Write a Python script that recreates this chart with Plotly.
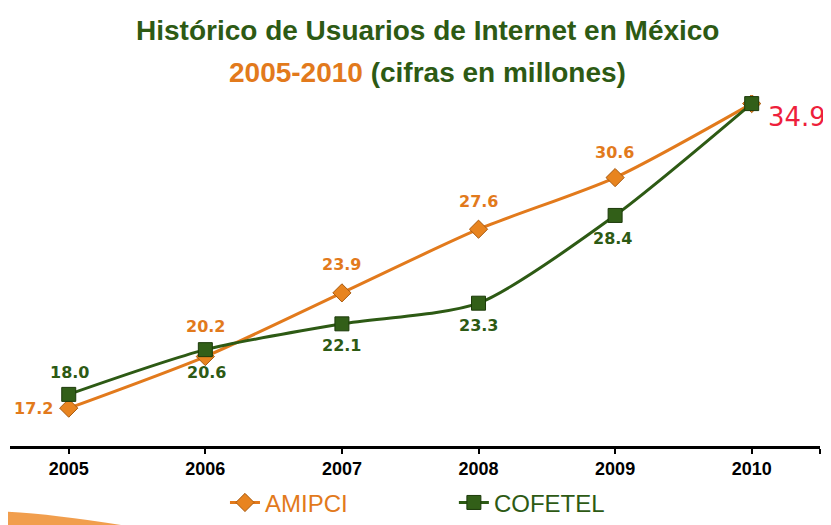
import plotly.graph_objects as go

# Data
years = [2005, 2006, 2007, 2008, 2009, 2010]
amipci = [17.2, 20.2, 23.9, 27.6, 30.6, 34.9]
cofetel = [18.0, 20.6, 22.1, 23.3, 28.4, 34.9]

ORANGE = "#e27a1c"
GREEN = "#2d5a14"
RED = "#ee1f3c"

# label offsets in px (xshift, yshift) for 2005-2009
amipci_offsets = [(-35, 0), (0, 30), (0, 28), (0, 28), (-1, 25)]
cofetel_offsets = [(1, 22), (1, -23), (0, -22), (0, -22), (-3, -23)]

fig = go.Figure()

fig.add_trace(go.Scatter(
    x=years, y=amipci, name="AMIPCI", mode="lines+markers", legend="legend",
    line=dict(color=ORANGE, width=3, shape="spline", smoothing=0.7),
    marker=dict(symbol="diamond", size=14, color="#e8841f",
                line=dict(color="#a85a10", width=1)),
))
fig.add_trace(go.Scatter(
    x=years, y=cofetel, name="COFETEL", mode="lines+markers", legend="legend2",
    line=dict(color=GREEN, width=3, shape="spline", smoothing=0.7),
    marker=dict(symbol="square", size=14, color="#325f18",
                line=dict(color="#1c3a0a", width=1)),
))

label_font = dict(family="DejaVu Sans", size=16, weight="bold")
for yr, v, (dx, dy) in zip(years[:-1], amipci[:-1], amipci_offsets):
    fig.add_annotation(x=yr, y=v, text=f"{v:.1f}", showarrow=False,
                       xshift=dx, yshift=dy, font=dict(color=ORANGE, **label_font))
for yr, v, (dx, dy) in zip(years[:-1], cofetel[:-1], cofetel_offsets):
    fig.add_annotation(x=yr, y=v, text=f"{v:.1f}", showarrow=False,
                       xshift=dx, yshift=dy, font=dict(color=GREEN, **label_font))

# final value highlighted in red
fig.add_annotation(x=years[-1], y=amipci[-1], text=f"{amipci[-1]:.1f}", showarrow=False,
                   xanchor="left", xshift=14, yshift=-13,
                   font=dict(family="DejaVu Sans", size=26, color=RED))

# two-line title
title_font = dict(family="Liberation Sans", size=28, color=GREEN, weight="bold")
fig.add_annotation(xref="paper", yref="paper", x=0.516, y=1.185,
                   text="Histórico de Usuarios de Internet en México",
                   showarrow=False, xanchor="center", yanchor="middle", font=title_font)
fig.add_annotation(xref="paper", yref="paper", x=0.516, y=1.0655,
                   text=f"<span style='color:{ORANGE}'>2005-2010</span> (cifras en millones)",
                   showarrow=False, xanchor="center", yanchor="middle", font=title_font)

# orange swoosh bottom-left
fig.add_shape(type="path", xref="paper", yref="paper",
              path="M -0.003,-0.187 Q 0.06,-0.195 0.15,-0.23 L -0.003,-0.23 Z",
              fillcolor="#f0943a", line=dict(width=0), opacity=0.9, layer="below")

legend_common = dict(orientation="h", xanchor="left", y=-0.162, yanchor="middle",
                     itemwidth=30, bgcolor="rgba(0,0,0,0)")

# page body adds an 8px margin, so the figure is 8px smaller than the window
fig.update_layout(
    width=823, height=517,
    paper_bgcolor="white", plot_bgcolor="white",
    margin=dict(l=2, r=11, t=87, b=79, autoexpand=False),
    showlegend=True,
    legend=dict(x=0.2654, font=dict(family="Liberation Sans", size=24, color=ORANGE),
                **legend_common),
    legend2=dict(x=0.548, font=dict(family="Liberation Sans", size=24, color=GREEN),
                 **legend_common),
    xaxis=dict(
        range=[2004.57, 2010.5],
        tickvals=years + [2010.5], ticktext=[str(y) for y in years] + [""],
        showgrid=False, zeroline=False,
        showline=True, linecolor="black", linewidth=2.5,
        ticks="outside", ticklen=5, tickwidth=2, tickcolor="black",
        tickfont=dict(family="Liberation Sans", size=18, color="black", weight="bold"),
    ),
    yaxis=dict(range=[15, 35.4], visible=False, showgrid=False, zeroline=False),
)

fig.write_html("out.html")
